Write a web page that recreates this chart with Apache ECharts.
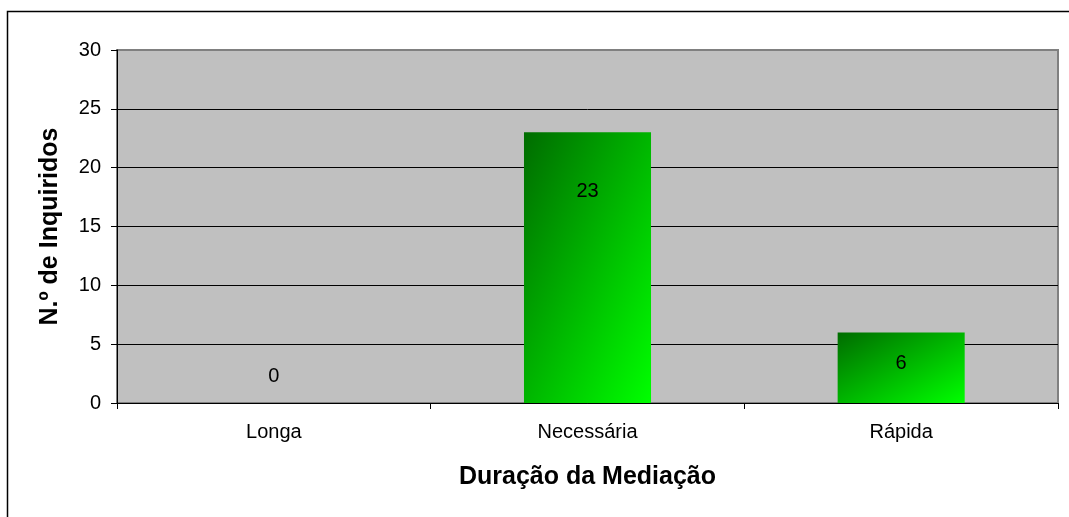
<!DOCTYPE html>
<html>
<head>
<meta charset="utf-8">
<script src="https://cdn.jsdelivr.net/npm/echarts@6/dist/echarts.min.js"></script>
<style>
html, body { margin: 0; padding: 0; background: #fff; }
#main { width: 1069px; height: 517px; }
</style>
</head>
<body>
<div id="main"></div>
<script>
var categorias = ['Longa', 'Necessária', 'Rápida'];
var inquiridos = [0, 23, 6];
var yTicks = [0, 5, 10, 15, 20, 25, 30];

// posição das etiquetas tal como no original (Excel)
var etiquetas = [
	{ position: 'top', distance: 17 },
	{ position: 'insideTop', distance: 49 },
	{ position: 'insideTop', distance: 21 }
];

var chart = echarts.init(document.getElementById('main'));

// gradiente diagonal "à Excel": isolinhas seguem a anti-diagonal da barra
function gradiente(w, h) {
	var s = w * w + h * h;
	var x2 = s ? 2 * h * h / s : 1;
	var y2 = s ? 2 * w * w / s : 1;
	return new echarts.graphic.LinearGradient(0, 0, x2, y2, [
		{ offset: 0, color: '#006C00' },
		{ offset: 1, color: '#00FF00' }
	]);
}

function montaDados(cores) {
	var dados = [];
	for (var i = 0; i < inquiridos.length; i++) {
		var d = { value: inquiridos[i], label: etiquetas[i] };
		if (cores) d.itemStyle = { color: cores[i] };
		dados.push(d);
	}
	return dados;
}

var option = {
	backgroundColor: '#ffffff',
	animation: false,
	textStyle: { fontFamily: 'Liberation Sans, Arial, sans-serif' },
	graphic: [{
		type: 'rect',
		shape: { x: 7.5, y: 11.5, width: 1100, height: 600 },
		style: { fill: 'none', stroke: '#000', lineWidth: 1.5 },
		silent: true
	}],
	grid: {
		left: 117, top: 50, right: 11, bottom: 114,
		show: true,
		backgroundColor: '#C0C0C0',
		borderColor: '#808080',
		borderWidth: 2
	},
	xAxis: {
		type: 'category',
		data: categorias,
		name: 'Duração da Mediação',
		nameLocation: 'middle',
		nameGap: 62,
		nameTextStyle: { fontSize: 25, fontWeight: 'bold', color: '#000' },
		axisLine: { lineStyle: { color: '#000', width: 1 } },
		axisTick: { show: true, length: 6, lineStyle: { color: '#000' } },
		axisLabel: { fontSize: 20, color: '#000', margin: 19 }
	},
	yAxis: {
		type: 'value',
		min: yTicks[0],
		max: yTicks[yTicks.length - 1],
		interval: 5,
		name: 'N.º de Inquiridos',
		nameLocation: 'middle',
		nameGap: 54,
		nameTextStyle: { fontSize: 25, fontWeight: 'bold', color: '#000' },
		axisLine: { show: true, lineStyle: { color: '#000', width: 1 } },
		axisTick: { show: true, length: 6, lineStyle: { color: '#000' } },
		axisLabel: { fontSize: 20, color: '#000', margin: 16 },
		splitLine: { show: true, showMaxLine: false, lineStyle: { color: '#000', width: 1 } }
	},
	series: [{
		type: 'bar',
		data: montaDados(null),
		barWidth: '40.5%',
		label: {
			show: true,
			fontSize: 20,
			color: '#000'
		}
	}]
};

chart.setOption(option);

// calcula o gradiente de cada barra a partir do seu tamanho em pixels
var cores = [];
var larg = chart.getModel().getSeriesByIndex(0).getData().getLayout('size') || 127;
for (var i = 0; i < inquiridos.length; i++) {
	var topo = chart.convertToPixel({ seriesIndex: 0 }, [i, inquiridos[i]]);
	var base = chart.convertToPixel({ seriesIndex: 0 }, [i, 0]);
	cores.push(gradiente(larg, Math.abs(base[1] - topo[1])));
}
chart.setOption({ series: [{ data: montaDados(cores) }] });
</script>
</body>
</html>
